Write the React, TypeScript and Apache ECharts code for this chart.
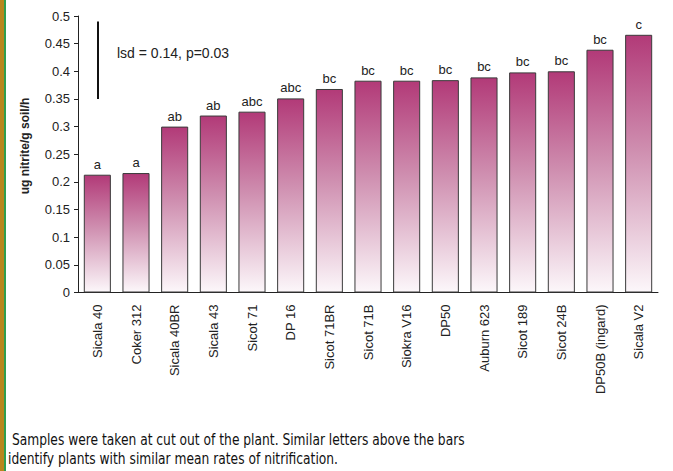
import React, { useEffect, useRef } from "react";
import * as echarts from "echarts";

const categories = [
  "Sicala 40", "Coker 312", "Sicala 40BR", "Sicala 43", "Sicot 71", "DP 16", "Sicot 71BR",
  "Sicot 71B", "Siokra V16", "DP50", "Auburn 623", "Sicot 189", "Sicot 24B", "DP50B (ingard)", "Sicala V2",
];
const values = [0.213, 0.216, 0.3, 0.32, 0.327, 0.351, 0.368, 0.383, 0.383, 0.384, 0.389, 0.398, 0.4, 0.439, 0.466];
const letters = ["a", "a", "ab", "ab", "abc", "abc", "bc", "bc", "bc", "bc", "bc", "bc", "bc", "bc", "c"];
const lsdValue = 0.14;
const lsdBottom = 0.35;
const lsdText = "lsd = 0.14, p=0.03";
const yAxisTitle = "ug nitrite/g soil/h";
const captionLines = [
  " Samples were taken at cut out of the plant. Similar letters above the bars",
  "identify plants with similar mean rates of nitrification.",
];

export default function App() {
  const ref = useRef<HTMLDivElement>(null);
  useEffect(() => {
    if (!ref.current) return;
    const chart = echarts.init(ref.current, null, { renderer: "svg" });
    const font = "Liberation Sans, Arial, sans-serif";
    const capFont = "Liberation Sans Narrow, DejaVu Sans Condensed, sans-serif";
    chart.setOption({
      animation: false,
      backgroundColor: "#ffffff",
      grid: { left: 78, right: 15, top: 16, bottom: 178.5 },
      xAxis: {
        type: "category",
        data: categories,
        axisLine: { lineStyle: { color: "#222", width: 1 } },
        axisTick: { length: 4, lineStyle: { color: "#222" } },
        axisLabel: { rotate: 90, fontSize: 13, color: "#222", fontFamily: font, margin: 12, interval: 0 },
      },
      yAxis: {
        type: "value",
        min: 0,
        max: 0.5,
        interval: 0.05,
        axisLine: { show: true, lineStyle: { color: "#222", width: 1 } },
        axisTick: { show: true, length: 4, lineStyle: { color: "#222" } },
        splitLine: { show: false },
        axisLabel: { fontSize: 13, color: "#222", fontFamily: font, margin: 8 },
      },
      series: [
        {
          type: "bar",
          data: values.map((v, i) => ({ value: v, label: { formatter: letters[i] } })),
          barWidth: "70%",
          itemStyle: {
            borderColor: "#3a3a3a",
            borderWidth: 1,
            color: new echarts.graphic.LinearGradient(0, 0, 0, 1, [
              { offset: 0, color: "#B23A78" },
              { offset: 0.45, color: "#CF8FB0" },
              { offset: 1, color: "#FCF7FA" },
            ]),
          },
          label: { show: true, position: "top", distance: 4, fontSize: 13, color: "#222", fontFamily: font },
          markLine: {
            silent: true,
            symbol: "none",
            label: { show: false },
            lineStyle: { color: "#111", width: 2, type: "solid" },
            data: [[{ coord: [0, lsdBottom + lsdValue] }, { coord: [0, lsdBottom] }]],
          },
        },
      ],
      graphic: [
        { type: "rect", left: 0, top: 0, shape: { width: 4, height: 471 }, style: { fill: "#B8861C" } },
        { type: "rect", left: 4, top: 0, shape: { width: 2, height: 471 }, style: { fill: "#2E9E4E" } },
        {
          type: "text",
          x: 117,
          y: 53,
          style: { text: lsdText, fontSize: 14, fontFamily: font, fill: "#222", textAlign: "left", textVerticalAlign: "middle" },
        },
        {
          type: "text",
          x: 25,
          y: 146,
          rotation: Math.PI / 2,
          style: { text: yAxisTitle, fontSize: 12, fontWeight: "bold", fontFamily: font, fill: "#222", textAlign: "center", textVerticalAlign: "middle" },
        },
        {
          type: "text",
          x: 8,
          y: 440,
          scaleX: 0.91,
          style: { text: captionLines[0], fontSize: 15, fontFamily: capFont, fill: "#111", textAlign: "left", textVerticalAlign: "middle" },
        },
        {
          type: "text",
          x: 8,
          y: 459,
          scaleX: 0.91,
          style: { text: captionLines[1], fontSize: 15, fontFamily: capFont, fill: "#111", textAlign: "left", textVerticalAlign: "middle" },
        },
      ],
    });
    return () => chart.dispose();
  }, []);
  return <div ref={ref} style={{ width: 673, height: 471, position: "absolute", left: 0, top: 0 }} />;
}
